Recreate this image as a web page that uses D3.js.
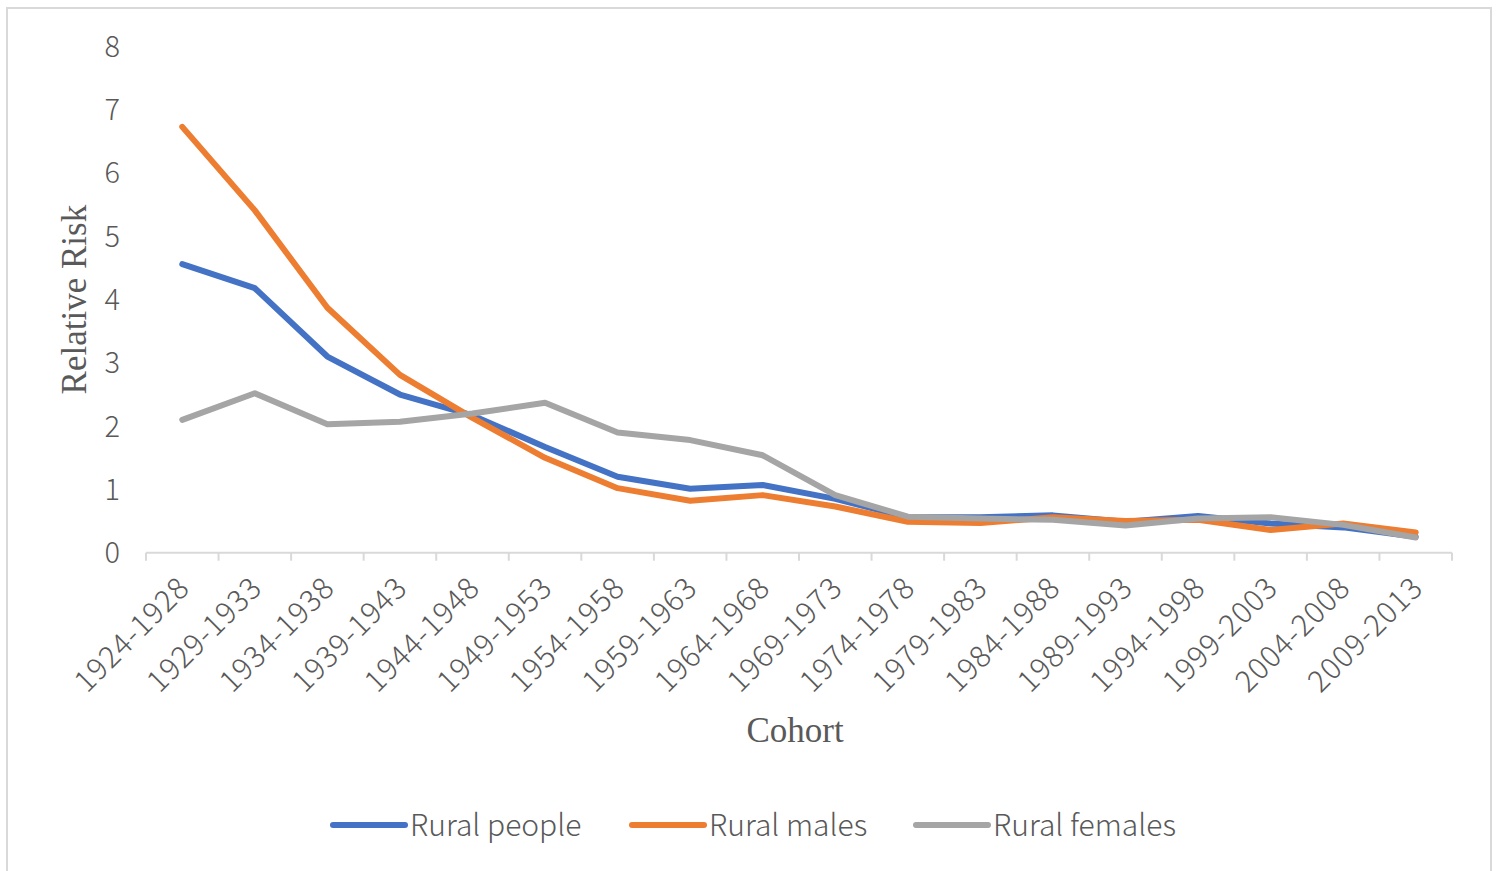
<!DOCTYPE html>
<html>
<head>
<meta charset="utf-8">
<script src="https://cdn.jsdelivr.net/npm/d3@7"></script>
<style>
  html, body { margin: 0; padding: 0; background: #ffffff; }
  svg { display: block; }
</style>
</head>
<body>
<svg id="chart" width="1497" height="871"></svg>
<script>
// Birth cohorts on the x axis
const cohorts = ["1924-1928","1929-1933","1934-1938","1939-1943","1944-1948","1949-1953",
  "1954-1958","1959-1963","1964-1968","1969-1973","1974-1978","1979-1983",
  "1984-1988","1989-1993","1994-1998","1999-2003","2004-2008","2009-2013"];

// Relative risk by cohort
const ruralPeople  = [4.56, 4.18, 3.10, 2.50, 2.17, 1.67, 1.20, 1.01, 1.07, 0.85, 0.56, 0.56, 0.59, 0.49, 0.58, 0.46, 0.40, 0.25];
const ruralMales   = [6.73, 5.41, 3.87, 2.81, 2.13, 1.50, 1.02, 0.82, 0.91, 0.73, 0.49, 0.47, 0.56, 0.50, 0.52, 0.36, 0.46, 0.32];
const ruralFemales = [2.10, 2.52, 2.03, 2.07, 2.20, 2.37, 1.90, 1.78, 1.54, 0.91, 0.57, 0.54, 0.52, 0.43, 0.54, 0.56, 0.44, 0.24];

const yTicks = [0, 1, 2, 3, 4, 5, 6, 7, 8];

const seriesNames  = ["Rural people", "Rural males", "Rural females"];
const seriesColors = ["#4472C4", "#ED7D31", "#A5A5A5"];
const seriesValues = [ruralPeople, ruralMales, ruralFemales];

const svg = d3.select("#chart");
const sansFont = "'Noto Sans CJK SC', 'Noto Sans', sans-serif";
const serifFont = "'Liberation Serif', 'Times New Roman', serif";
const textColor = "#595959";

// outer chart frame
svg.append("rect")
  .attr("x", 7).attr("y", 8)
  .attr("width", 1484).attr("height", 880)
  .attr("fill", "#ffffff")
  .attr("stroke", "#d9d9d9")
  .attr("stroke-width", 2);

const plotLeft = 146, plotRight = 1452, plotTop = 46.5, plotBottom = 552.7;

const x = d3.scaleBand().domain(cohorts).range([plotLeft, plotRight]).padding(0);
const y = d3.scaleLinear().domain([0, 8]).range([plotBottom, plotTop]);
const cx = c => x(c) + x.bandwidth() / 2;

// x axis baseline with tick marks on category boundaries
const xAxisG = svg.append("g");
xAxisG.append("line")
  .attr("x1", plotLeft).attr("x2", plotRight)
  .attr("y1", y(0)).attr("y2", y(0))
  .attr("stroke", "#d9d9d9").attr("stroke-width", 2);

const boundaries = cohorts.map(c => x(c)).concat([plotRight]);
xAxisG.selectAll("line.tick")
  .data(boundaries)
  .join("line")
  .attr("class", "tick")
  .attr("x1", d => d).attr("x2", d => d)
  .attr("y1", y(0)).attr("y2", y(0) + 8)
  .attr("stroke", "#d9d9d9").attr("stroke-width", 2);

// rotated cohort labels
xAxisG.selectAll("text.xlab")
  .data(cohorts)
  .join("text")
  .attr("class", "xlab")
  .attr("transform", d => `translate(${cx(d) + 9},${y(0) + 37}) rotate(-45)`)
  .attr("text-anchor", "end")
  .attr("font-family", sansFont)
  .attr("font-weight", 300)
  .attr("font-size", 30)
  .attr("letter-spacing", 1)
  .attr("fill", textColor)
  .text(d => d);

// y tick labels (no axis line, no gridlines)
svg.append("g").selectAll("text")
  .data(yTicks)
  .join("text")
  .attr("x", 120)
  .attr("y", d => y(d))
  .attr("dy", "0.36em")
  .attr("text-anchor", "end")
  .attr("font-family", sansFont)
  .attr("font-weight", 300)
  .attr("font-size", 29)
  .attr("fill", textColor)
  .text(d => d);

// axis titles
svg.append("text")
  .attr("transform", `translate(74,${(plotTop + plotBottom) / 2}) rotate(-90)`)
  .attr("text-anchor", "middle")
  .attr("dy", "0.35em")
  .attr("font-family", serifFont)
  .attr("font-size", 35)
  .attr("fill", textColor)
  .text("Relative Risk");

svg.append("text")
  .attr("x", 795)
  .attr("y", 742)
  .attr("text-anchor", "middle")
  .attr("font-family", serifFont)
  .attr("font-size", 35)
  .attr("fill", textColor)
  .text("Cohort");

// series lines
const line = d3.line()
  .x((d, i) => cx(cohorts[i]))
  .y(d => y(d));

svg.append("g").selectAll("path")
  .data(seriesValues)
  .join("path")
  .attr("d", d => line(d))
  .attr("fill", "none")
  .attr("stroke", (d, i) => seriesColors[i])
  .attr("stroke-width", 6)
  .attr("stroke-linejoin", "round")
  .attr("stroke-linecap", "round");

// legend
const legendX = [333, 632, 916];
const legend = svg.append("g");
const items = legend.selectAll("g")
  .data(seriesNames)
  .join("g")
  .attr("transform", (d, i) => `translate(${legendX[i]},825)`);
items.append("line")
  .attr("x1", 0).attr("x2", 72)
  .attr("y1", 0).attr("y2", 0)
  .attr("stroke", (d, i) => seriesColors[i])
  .attr("stroke-width", 6)
  .attr("stroke-linecap", "round");
items.append("text")
  .attr("x", 77)
  .attr("y", 0)
  .attr("dy", "0.36em")
  .attr("font-family", sansFont)
  .attr("font-weight", 300)
  .attr("font-size", 30)
  .attr("fill", textColor)
  .text(d => d);
</script>
</body>
</html>
